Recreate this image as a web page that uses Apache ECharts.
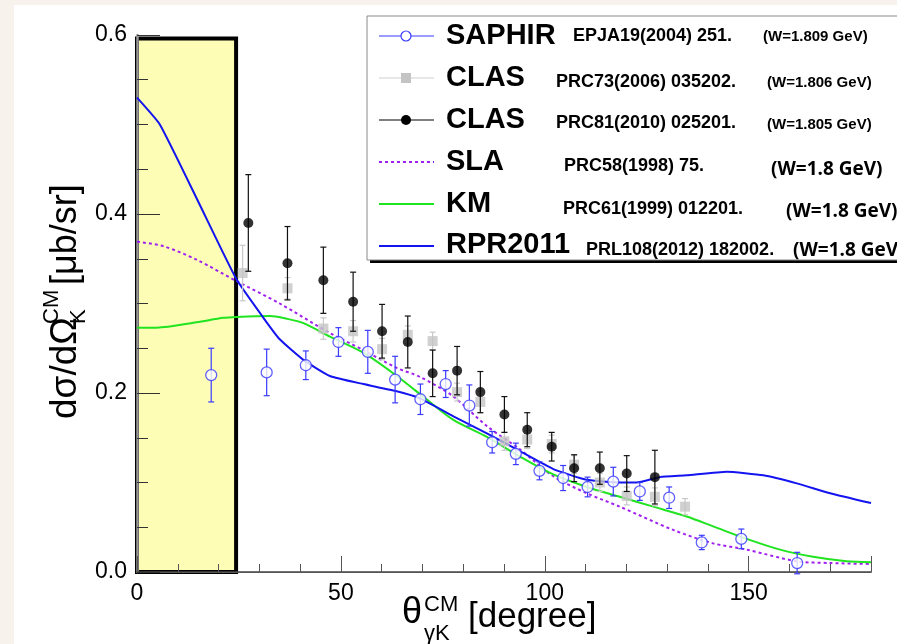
<!DOCTYPE html>
<html><head><meta charset="utf-8">
<script src="https://cdn.jsdelivr.net/npm/echarts@6/dist/echarts.min.js"></script>
<style>
html,body{margin:0;padding:0;width:897px;height:644px;overflow:hidden;background:#f7f3ec;}
#panel{position:absolute;left:14px;top:5px;width:883px;height:639px;background:#fff;}
#chart{position:absolute;left:0;top:0;width:897px;height:644px;}
</style></head>
<body><div id="panel"></div><div id="chart"></div>
<script>
// ---- data ----
const saphirAngles = [18.2, 31.8, 41.4, 49.4, 56.6, 63.3, 69.5, 75.7, 81.5, 87.1, 92.9, 98.7, 104.5, 110.5, 116.8, 123.3, 130.5, 138.5, 148.2, 161.9];
const saphirValues = [0.220, 0.223, 0.231, 0.257, 0.246, 0.215, 0.193, 0.210, 0.186, 0.145, 0.132, 0.113, 0.105, 0.095, 0.101, 0.090, 0.083, 0.033, 0.037, 0.010];
const saphirErrors = [0.030, 0.026, 0.016, 0.016, 0.024, 0.026, 0.017, 0.015, 0.023, 0.012, 0.012, 0.010, 0.014, 0.011, 0.016, 0.010, 0.012, 0.008, 0.011, 0.012];

const clas2006Angles = [25.9, 36.9, 45.7, 53.0, 60.1, 66.4, 72.5, 78.5, 84.2, 90.1, 95.7, 101.7, 107.2, 113.5, 120.1, 127.0, 134.4];
const clas2006Values = [0.334, 0.317, 0.272, 0.269, 0.249, 0.265, 0.258, 0.201, 0.190, 0.146, 0.148, 0.143, 0.120, 0.100, 0.085, 0.084, 0.073];
const clas2006Errors = [0.031, 0.012, 0.012, 0.012, 0.012, 0.010, 0.010, 0.010, 0.012, 0.010, 0.010, 0.010, 0.010, 0.010, 0.010, 0.010, 0.009];

const clas2010Angles = [27.3, 36.9, 45.7, 53.0, 60.1, 66.4, 72.5, 78.5, 84.2, 90.1, 95.7, 101.7, 107.2, 113.5, 120.1, 127.0];
const clas2010Values = [0.390, 0.345, 0.326, 0.302, 0.269, 0.257, 0.222, 0.225, 0.201, 0.176, 0.159, 0.140, 0.116, 0.116, 0.110, 0.106];
const clas2010Errors = [0.054, 0.041, 0.037, 0.033, 0.030, 0.029, 0.026, 0.027, 0.023, 0.020, 0.019, 0.016, 0.015, 0.018, 0.020, 0.030];

const slaAngles = [0, 6.5, 14.6, 24.4, 35, 47.3, 55.5, 63.7, 69.4, 77.6, 85.8, 93.9, 102.1, 110.3, 118.4, 131.5, 141.3, 149.5, 161.8, 170, 180];
const slaValues = [0.369, 0.364, 0.349, 0.325, 0.300, 0.267, 0.248, 0.228, 0.218, 0.196, 0.163, 0.137, 0.107, 0.088, 0.073, 0.047, 0.032, 0.025, 0.012, 0.010, 0.009];

const kmAngles = [0, 4.8, 14.6, 21.2, 24.4, 32.6, 36.7, 40.8, 47.3, 55.5, 63.7, 71, 77.6, 85.8, 93.9, 102.1, 110.3, 118.4, 126.6, 134.8, 141.3, 149.5, 157.7, 165.8, 174, 180];
const kmValues = [0.273, 0.273, 0.279, 0.284, 0.285, 0.286, 0.283, 0.278, 0.263, 0.245, 0.219, 0.193, 0.170, 0.151, 0.129, 0.109, 0.095, 0.084, 0.073, 0.062, 0.051, 0.037, 0.025, 0.017, 0.012, 0.011];

const rprAngles = [0, 5.6, 15, 24.4, 31, 35, 40.8, 47.3, 55.5, 63.7, 69.4, 77.6, 85.8, 93.9, 102.1, 110.3, 118.4, 122.5, 128.2, 134.8, 144.6, 153.6, 161.8, 170, 180];
const rprValues = [0.530, 0.500, 0.414, 0.327, 0.284, 0.260, 0.237, 0.219, 0.210, 0.202, 0.194, 0.174, 0.155, 0.135, 0.115, 0.103, 0.100, 0.100, 0.106, 0.108, 0.112, 0.108, 0.099, 0.088, 0.077];

const highlightBox = [0, 24.3, 0.596]; // x from, x to, y top
const xLabelValues = [0, 50, 100, 150];
const yLabelValues = [0.0, 0.2, 0.4, 0.6];

const legendNames = ['SAPHIR', 'CLAS', 'CLAS', 'SLA', 'KM', 'RPR2011'];
const legendRefs = ['EPJA19(2004) 251.', 'PRC73(2006) 035202.', 'PRC81(2010) 025201.', 'PRC58(1998) 75.', 'PRC61(1999) 012201.', 'PRL108(2012) 182002.'];
const legendEnergies = ['(W=1.809 GeV)', '(W=1.806 GeV)', '(W=1.805 GeV)', '(W=1.8 GeV)', '(W=1.8 GeV)', '(W=1.8 GeV)'];

// ---- build ----
const FONT = '"Liberation Sans", Arial, Helvetica, sans-serif';
function pairs(xs, ys) { return xs.map((x, i) => [x, ys[i]]); }
function triples(xs, ys, es) { return xs.map((x, i) => [x, ys[i], es[i]]); }

function errRender(color, cap, lw) {
  return function (params, api) {
    const x = api.value(0), y = api.value(1), e = api.value(2);
    const t = api.coord([x, y + e]), b = api.coord([x, y - e]);
    const st = { stroke: color, lineWidth: lw };
    return { type: 'group', children: [
      { type: 'line', shape: { x1: t[0], y1: t[1], x2: b[0], y2: b[1] }, style: st },
      { type: 'line', shape: { x1: t[0] - cap, y1: t[1], x2: t[0] + cap, y2: t[1] }, style: st },
      { type: 'line', shape: { x1: b[0] - cap, y1: b[1], x2: b[0] + cap, y2: b[1] }, style: st }
    ] };
  };
}

const isMult = (v, s) => Math.abs(v / s - Math.round(v / s)) < 1e-6;

const C_SAPHIR = '#3a3aff', C_C06 = '#c4c4c4', C_C10 = '#000000', C_SLA = '#a020f0', C_KM = '#1fe41f', C_RPR = '#1414f0';

const chart = echarts.init(document.getElementById('chart'), null, { renderer: 'canvas' });

// legend graphic
const LX = 367, LY = 16, rowY = [36, 78, 120, 162, 204, 246];
const nameY = [36, 78, 120, 162, 204, 245];
const refX = [573, 556, 556, 564, 563, 586];
const refY = [36, 82, 123, 166, 209, 250];
const enX = [763, 767, 767, 771, 786, 793];
const enY = [37, 83, 125, 170, 212, 251];
const legendGraphics = [
  { type: 'rect', z: 100, shape: { x: LX + 3, y: 259, width: 600, height: 4 }, style: { fill: '#000' } },
  { type: 'rect', z: 100, shape: { x: LX, y: LY, width: 600, height: 244 }, style: { fill: '#fff', stroke: '#8a8a8a', lineWidth: 1 } }
];
const sampleStyles = [
  { c: C_SAPHIR, dash: null, w: 1.2, m: 'ocircle' },
  { c: '#cfcfcf', dash: null, w: 1.2, m: 'square' },
  { c: '#000', dash: null, w: 1.2, m: 'dot' },
  { c: C_SLA, dash: [3, 3], w: 2, m: null },
  { c: C_KM, dash: null, w: 2, m: null },
  { c: C_RPR, dash: null, w: 2, m: null }
];
sampleStyles.forEach((s, i) => {
  const y = rowY[i];
  legendGraphics.push({ type: 'line', z: 101, shape: { x1: 379, y1: y, x2: 434, y2: y }, style: { stroke: s.c, lineWidth: s.w, lineDash: s.dash } });
  if (s.m === 'ocircle') legendGraphics.push({ type: 'circle', z: 102, shape: { cx: 406, cy: y, r: 5 }, style: { fill: '#fff', stroke: C_SAPHIR, lineWidth: 1.2 } });
  if (s.m === 'square') legendGraphics.push({ type: 'rect', z: 102, shape: { x: 401, y: y - 5, width: 10, height: 10 }, style: { fill: C_C06 } });
  if (s.m === 'dot') legendGraphics.push({ type: 'circle', z: 102, shape: { cx: 406, cy: y, r: 5 }, style: { fill: '#000' } });
  legendGraphics.push({ type: 'text', z: 102, x: 446, y: nameY[i], style: { text: legendNames[i], font: 'bold 29px ' + FONT, fill: '#000', align: 'left', verticalAlign: 'middle' } });
  legendGraphics.push({ type: 'text', z: 102, x: refX[i], y: refY[i], style: { text: legendRefs[i], font: 'bold 18px ' + FONT, fill: '#000', align: 'left', verticalAlign: 'middle' } });
  const enFont = i < 3 ? 'bold 15px ' + FONT : 'bold 19px "Open Sans", sans-serif';
  legendGraphics.push({ type: 'text', z: 103, x: enX[i], y: enY[i], style: { text: legendEnergies[i], font: enFont, fill: '#000', align: 'left', verticalAlign: 'middle' } });
});

// axis titles
const titleGraphics = [
  { type: 'text', z: 50, x: 402, y: 613, style: { text: 'θ', font: '36px ' + FONT, fill: '#000', align: 'left', verticalAlign: 'middle' } },
  { type: 'text', z: 50, x: 424, y: 605, style: { text: 'CM', font: '22px ' + FONT, fill: '#000', align: 'left', verticalAlign: 'middle' } },
  { type: 'text', z: 50, x: 424, y: 634, style: { text: 'γK', font: '22px ' + FONT, fill: '#000', align: 'left', verticalAlign: 'middle' } },
  { type: 'text', z: 50, x: 468, y: 617, style: { text: '[degree]', font: '35px ' + FONT, fill: '#000', align: 'left', verticalAlign: 'middle' } },
  { type: 'group', z: 50, x: 66, y: 419, rotation: Math.PI / 2, children: [
    { type: 'text', x: 0, y: 0, style: { text: 'dσ/dΩ', font: '37px ' + FONT, fill: '#000', align: 'left', verticalAlign: 'middle' } },
    { type: 'text', x: 95, y: -14, style: { text: 'CM', font: '22px ' + FONT, fill: '#000', align: 'left', verticalAlign: 'middle' } },
    { type: 'text', x: 95, y: 13, style: { text: 'K', font: '22px ' + FONT, fill: '#000', align: 'left', verticalAlign: 'middle' } },
    { type: 'text', x: 134, y: 0, style: { text: '[μb/sr]', font: '36px ' + FONT, fill: '#000', align: 'left', verticalAlign: 'middle' } }
  ] }
];

const option = {
  animation: false,
  backgroundColor: 'transparent',
  grid: { left: 137, right: 26, top: 35, bottom: 72, show: false },
  xAxis: [
    { type: 'value', min: 0, max: 180, interval: 10, position: 'bottom', z: 3,
      axisLine: { show: true, lineStyle: { color: '#444', width: 1.5 } },
      axisTick: { show: true, inside: true, length: 8, lineStyle: { color: '#555', width: 1 } },
      axisLabel: { formatter: v => xLabelValues.includes(v) ? String(v) : '', fontSize: 23, color: '#000', fontFamily: FONT, margin: 10, showMaxLabel: true },
      splitLine: { show: false } },
    { type: 'value', min: 0, max: 180, interval: 50, position: 'bottom', z: 3,
      axisLine: { show: false }, axisLabel: { show: false },
      axisTick: { show: true, inside: true, length: 16, lineStyle: { color: '#555', width: 1 } },
      splitLine: { show: false } },
    { type: 'value', min: 0, max: 180, position: 'top', z: 3,
      axisLine: { show: true, lineStyle: { color: '#555', width: 1 } },
      axisTick: { show: false }, axisLabel: { show: false }, splitLine: { show: false } }
  ],
  yAxis: [
    { type: 'value', min: 0, max: 0.6, interval: 0.05, position: 'left', z: 3,
      axisLine: { show: true, lineStyle: { color: '#777', width: 1 } },
      axisTick: { show: true, inside: true, length: 11, lineStyle: { color: '#333', width: 1 } },
      axisLabel: { formatter: v => (isMult(v, 0.2) && yLabelValues.some(t => Math.abs(t - v) < 1e-6)) ? v.toFixed(1) : '', fontSize: 23, color: '#000', fontFamily: FONT, margin: 10 },
      splitLine: { show: false } },
    { type: 'value', min: 0, max: 0.6, interval: 0.2, position: 'left', z: 3,
      axisLine: { show: false }, axisLabel: { show: false },
      axisTick: { show: true, inside: true, length: 23, lineStyle: { color: '#333', width: 1 } },
      splitLine: { show: false } },
    { type: 'value', min: 0, max: 0.6, position: 'right', z: 3,
      axisLine: { show: true, lineStyle: { color: '#999', width: 2.5 } },
      axisTick: { show: false }, axisLabel: { show: false }, splitLine: { show: false } }
  ],
  graphic: legendGraphics.concat(titleGraphics),
  series: [
    { type: 'custom', z: 1, clip: false, data: [highlightBox],
      renderItem: (params, api) => {
        const p0 = api.coord([api.value(0), api.value(2)]);
        const p1 = api.coord([api.value(1), 0]);
        return { type: 'rect', shape: { x: p0[0], y: p0[1], width: p1[0] - p0[0], height: p1[1] - p0[1] },
          style: { fill: '#fdfdb6', stroke: '#000', lineWidth: 4 } };
      } },
    { name: 'SLA', type: 'line', z: 4, data: pairs(slaAngles, slaValues), showSymbol: false, smooth: 0.3,
      lineStyle: { color: C_SLA, width: 2, type: [3, 3] } },
    { name: 'KM', type: 'line', z: 4, data: pairs(kmAngles, kmValues), showSymbol: false, smooth: 0.3,
      lineStyle: { color: C_KM, width: 2 } },
    { name: 'RPR2011', type: 'line', z: 4, data: pairs(rprAngles, rprValues), showSymbol: false, smooth: 0.15,
      lineStyle: { color: C_RPR, width: 2 } },
    { type: 'custom', z: 5, data: triples(clas2006Angles, clas2006Values, clas2006Errors), renderItem: errRender('#c8c8c8', 3, 1.2) },
    { name: 'CLAS 2006', type: 'scatter', z: 5, data: pairs(clas2006Angles, clas2006Values), symbol: 'rect', symbolSize: 10,
      itemStyle: { color: C_C06 } },
    { type: 'custom', z: 6, data: triples(clas2010Angles, clas2010Values, clas2010Errors), renderItem: errRender('#111', 3, 1.2) },
    { name: 'CLAS 2010', type: 'scatter', z: 6, data: pairs(clas2010Angles, clas2010Values), symbol: 'circle', symbolSize: 10,
      itemStyle: { color: C_C10 } },
    { type: 'custom', z: 7, data: triples(saphirAngles, saphirValues, saphirErrors), renderItem: errRender(C_SAPHIR, 3, 1.2) },
    { name: 'SAPHIR', type: 'scatter', z: 7, data: pairs(saphirAngles, saphirValues), symbol: 'circle', symbolSize: 11,
      itemStyle: { color: '#fff', borderColor: C_SAPHIR, borderWidth: 1.3 } }
  ]
};
chart.setOption(option);
</script>
</body></html>
